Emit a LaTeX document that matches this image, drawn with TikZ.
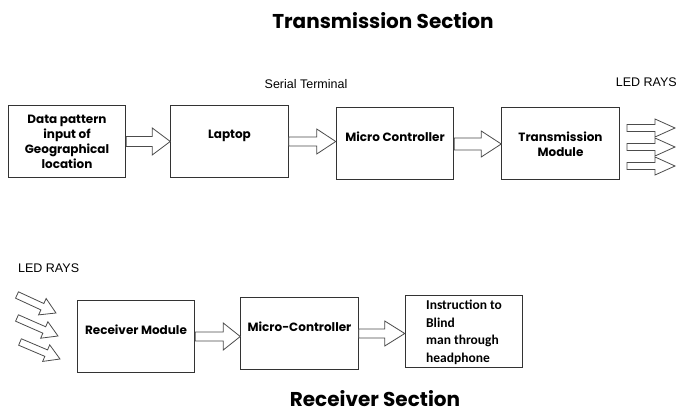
\documentclass[tikz,border=0pt]{standalone}
\usepackage{fontspec}
\setmainfont{Liberation Sans}
\newfontfamily\gothic{Poppins}
\newfontfamily\calibri{Carlito}
\usetikzlibrary{positioning,calc}

% hollow block arrow: #1 tail, #2 tip, #3 half shaft, #4 half head, #5 head length
\newcommand{\hollowarrow}[5]{%
  \path let \p1=($(#2)-(#1)$) in \pgfextra{%
    \pgfmathsetmacro\harrang{atan2(\y1,\x1)}%
    \pgfmathsetmacro\harrlen{veclen(\x1,\y1)}%
    \pgfmathsetmacro\harrneck{\harrlen-#5}%
    \global\let\harrang\harrang
    \global\let\harrlen\harrlen
    \global\let\harrneck\harrneck};
  \draw[arrowline, shift={(#1)}, rotate=\harrang]
    (0,#3) -- (\harrneck,#3) -- (\harrneck,#4) -- (\harrlen,0)
    -- (\harrneck,-#4) -- (\harrneck,-#3) -- (0,-#3) -- cycle;}

\begin{document}
\begin{tikzpicture}[x=1pt, y=1pt,
        box/.style={draw=black!80, line width=1pt, minimum width=117.5pt,
                    minimum height=72pt, align=center,
                    font=\gothic\bfseries\fontsize{12}{15}\selectfont},
        lifted/.style={text depth=14pt},
        arrowline/.style={draw=black!70, line width=0.8pt, fill=white},
        lbl/.style={font=\fontsize{12.5}{14}\selectfont, inner sep=0pt},
        title/.style={font=\gothic\bfseries\fontsize{20}{24}\selectfont, inner sep=0pt}
    ]
    \useasboundingbox (0,0) rectangle (678,413);

    % transmission side
    \node[title] (txtitle) at (383,392) {Transmission Section};
    \node[box] (data) at (67,271.5) {Data pattern\\input of\\Geographical\\location};
    \node[box, lifted, right=44pt of data] (laptop) {Laptop};
    \node[box, lifted, right=47pt of laptop, yshift=-2.5pt] (mcu) {Micro Controller};
    \node[box, right=47pt of mcu] (txmod) {Transmission\\Module};

    \node[lbl] (serial) at (306,329) {Serial Terminal};
    \node[lbl, anchor=east] (ledtx) at (677,331) {LED RAYS};

    \hollowarrow{data.east}{laptop.west |- data.east}{5}{13.5}{18}
    \hollowarrow{laptop.east}{mcu.west |- laptop.east}{4.5}{12.5}{19}
    \hollowarrow{mcu.east}{txmod.west |- mcu.east}{6}{13}{20}

    \foreach \y [count=\i] in {285,266,247} {
        \coordinate (raytail\i) at (627,\y);
        \coordinate (raytip\i) at (675,\y);
        \hollowarrow{raytail\i}{raytip\i}{3.5}{9}{20}
    }

    % receiver side
    \node[title] (rxtitle) at (375,14) {Receiver Section};
    \node[box, lifted] (rxmod) at (136,76.5) {Receiver Module};
    \node[box, lifted, right=45pt of rxmod, yshift=3pt] (mcu2) {Micro-Controller};
    \node[box, align=left, right=46pt of mcu2, yshift=2pt, text depth=0pt,
          font=\calibri\bfseries\fontsize{13.5}{17.5}\selectfont] (instr)
          {Instruction to\\Blind\\man through\\headphone};

    \node[lbl, anchor=west] (ledrx) at (18,145) {LED RAYS};

    \hollowarrow{rxmod.east}{mcu2.west |- rxmod.east}{4.5}{13.5}{17}
    \hollowarrow{mcu2.east}{instr.west |- mcu2.east}{4.5}{12.5}{20}

    \foreach \xa/\ya/\xb/\yb [count=\i] in {17/118/56/100, 17/95/58/77, 20/71/60/54} {
        \coordinate (intail\i) at (\xa,\ya);
        \coordinate (intip\i) at (\xb,\yb);
        \hollowarrow{intail\i}{intip\i}{3.5}{9}{15}
    }
\end{tikzpicture}
\end{document}
